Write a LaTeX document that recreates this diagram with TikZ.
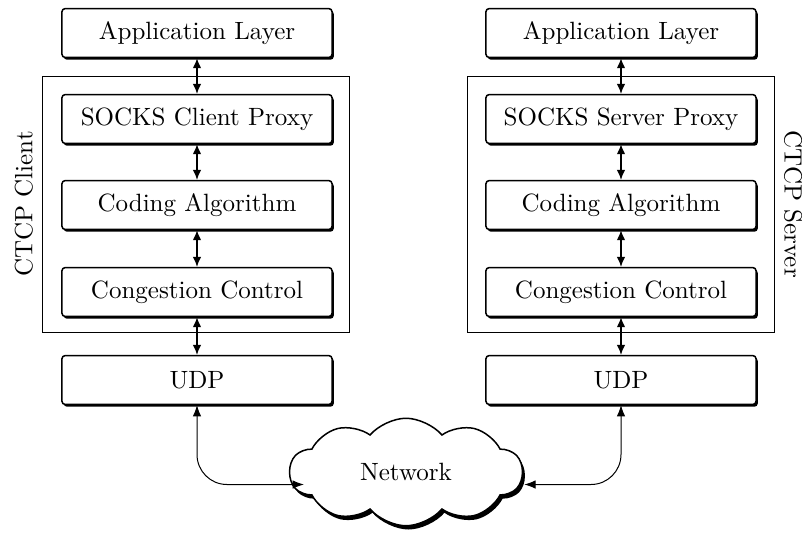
\documentclass[tikz,border=0pt]{standalone}
\usetikzlibrary{shapes.symbols,shadows,arrows.meta}
\tikzset{
 layer/.style={draw,semithick,fill=white,rounded corners=1.2pt,minimum width=108pt,minimum height=19.5pt,
  drop shadow={shadow xshift=0.7pt,shadow yshift=-0.9pt,opacity=1,fill=black}},
 stack/.style={draw,thin,minimum width=123pt,minimum height=102.4pt},
 link/.style={{Latex[length=4pt,width=3.4pt]}-{Latex[length=4pt,width=3.4pt]},semithick},
 netlink/.style={{Latex[length=4.5pt,width=3.4pt]}-{Latex[length=4.5pt,width=3.4pt]},thin,rounded corners=12pt},
}
\begin{document}
\begin{tikzpicture}[x=0.4pt,y=-0.4pt]
 \useasboundingbox (0,0) rectangle (802,536);
 \node[stack] (ctcpL) at (196,204) {};
 \node[stack] (ctcpR) at (621,204) {};
 \node[rotate=90,anchor=south] (labL) at (ctcpL.west) {CTCP Client};
 \node[rotate=-90,anchor=south] (labR) at (ctcpR.east) {CTCP Server};
 \node[layer] (appL) at (197,33) {Application Layer};
 \node[layer] (sockL) at (197,119) {SOCKS Client Proxy};
 \node[layer] (codeL) at (197,205) {Coding Algorithm};
 \node[layer] (congL) at (197,292) {Congestion Control};
 \node[layer] (udpL) at (197,380) {UDP};
 \node[layer] (appR) at (621,33) {Application Layer};
 \node[layer] (sockR) at (621,119) {SOCKS Server Proxy};
 \node[layer] (codeR) at (621,205) {Coding Algorithm};
 \node[layer] (congR) at (621,292) {Congestion Control};
 \node[layer] (udpR) at (621,380) {UDP};
 \node[cloud,cloud puffs=10,cloud puff arc=100,cloud ignores aspect,draw,semithick,fill=white,
  minimum width=93pt,minimum height=43pt,
  drop shadow={shadow xshift=1pt,shadow yshift=-1.5pt,opacity=1,fill=black}] (net) at (406,472) {Network};
 \draw[link] (appL.south) -- (sockL.north);
 \draw[link] (sockL.south) -- (codeL.north);
 \draw[link] (codeL.south) -- (congL.north);
 \draw[link] (congL.south) -- (udpL.north);
 \draw[link] (appR.south) -- (sockR.north);
 \draw[link] (sockR.south) -- (codeR.north);
 \draw[link] (codeR.south) -- (congR.north);
 \draw[link] (congR.south) -- (udpR.north);
 \draw[netlink] (udpL.south) |- ([shift={(6pt,-5pt)}]net.west);
 \draw[netlink] (udpR.south) |- ([shift={(0.5pt,-5pt)}]net.east);
\end{tikzpicture}
\end{document}
